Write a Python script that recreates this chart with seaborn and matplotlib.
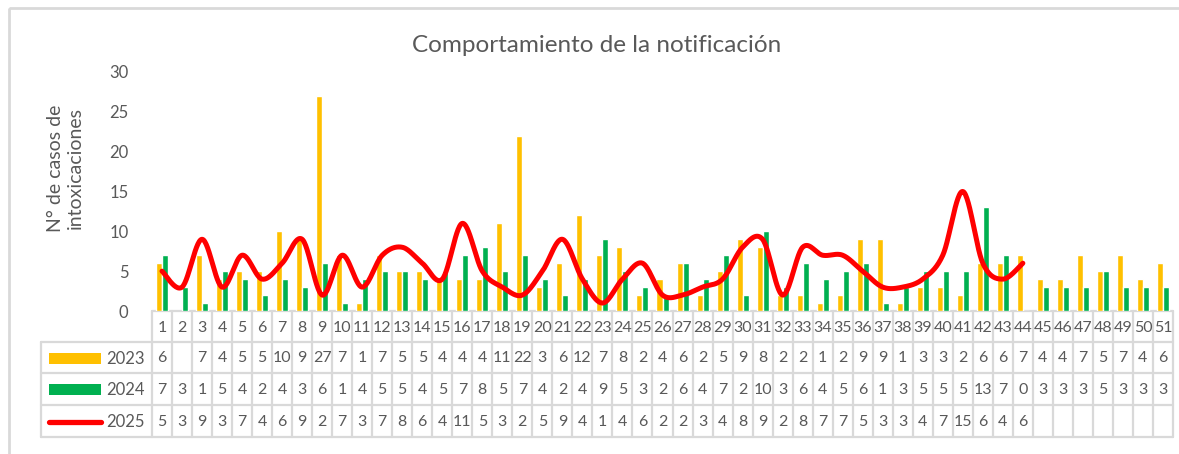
import numpy as np
import pandas as pd
import matplotlib
matplotlib.use("Agg")
import matplotlib.pyplot as plt
import seaborn as sns
from matplotlib.patches import Rectangle

weeks = [str(i) for i in range(1, 52)]
y2023 = [6, np.nan, 7, 4, 5, 5, 10, 9, 27, 7, 1, 7, 5, 5, 4, 4, 4, 11, 22, 3, 6, 12, 7, 8, 2, 4,
         6, 2, 5, 9, 8, 2, 2, 1, 2, 9, 9, 1, 3, 3, 2, 6, 6, 7, 4, 4, 7, 5, 7, 4, 6]
y2024 = [7, 3, 1, 5, 4, 2, 4, 3, 6, 1, 4, 5, 5, 4, 5, 7, 8, 5, 7, 4, 2, 4, 9, 5, 3, 2,
         6, 4, 7, 2, 10, 3, 6, 4, 5, 6, 1, 3, 5, 5, 5, 13, 7, 0, 3, 3, 3, 5, 3, 3, 3]
y2025 = [5, 3, 9, 3, 7, 4, 6, 9, 2, 7, 3, 7, 8, 6, 4, 11, 5, 3, 2, 5, 9, 4, 1, 4, 6, 2,
         2, 3, 4, 8, 9, 2, 8, 7, 7, 5, 3, 3, 4, 7, 15, 6, 4, 6]
series_names = ["2023", "2024", "2025"]
title = "Comportamiento de la notificación"
ylabel = "N° de casos de\nintoxicaciones"

C23, C24, C25 = "#FFC000", "#00B050", "#FF0000"
TXT = "#595959"
GRID = "#D9D9D9"

sns.set_theme(style="white")
plt.rcParams["font.family"] = ["Lato", "DejaVu Sans"]

W, H = 1179, 454
fig = plt.figure(figsize=(W / 100, H / 100), dpi=100)

# background/frame axes in pixel coordinates
bg = fig.add_axes([0, 0, 1, 1], zorder=0)
bg.set_xlim(0, W)
bg.set_ylim(H, 0)
bg.axis("off")
bg.add_patch(Rectangle((9, 8), W + 20, H + 20, fill=False, edgecolor=GRID, lw=2))

L, R, T, B = 152, 1173, 72, 311
ax = fig.add_axes([L / W, 1 - B / H, (R - L) / W, (B - T) / H], zorder=2)
ax.patch.set_alpha(0)

df = pd.DataFrame({
    "week": weeks * 2,
    "value": y2023 + y2024,
    "year": ["2023"] * len(weeks) + ["2024"] * len(weeks),
})
sns.barplot(data=df, x="week", y="value", hue="year", palette=[C23, C24],
            saturation=1, width=0.6, gap=0, ax=ax, legend=False, order=weeks)

# Excel-like smoothed line (Catmull-Rom / Bezier)
px = np.arange(len(y2025), dtype=float)
py = np.array(y2025, dtype=float)
xs, ys = [], []
n = len(px)
for i in range(n - 1):
    p0 = np.array([px[max(i - 1, 0)], py[max(i - 1, 0)]])
    p1 = np.array([px[i], py[i]])
    p2 = np.array([px[i + 1], py[i + 1]])
    p3 = np.array([px[min(i + 2, n - 1)], py[min(i + 2, n - 1)]])
    b1 = p1 + (p2 - p0) / 6
    b2 = p2 - (p3 - p1) / 6
    t = np.linspace(0, 1, 30)[:, None]
    pts = (1 - t) ** 3 * p1 + 3 * (1 - t) ** 2 * t * b1 + 3 * (1 - t) * t ** 2 * b2 + t ** 3 * p2
    xs.extend(pts[:, 0]); ys.extend(pts[:, 1])
ax.plot(xs, ys, color=C25, lw=3.6, solid_capstyle="round", solid_joinstyle="round", zorder=5)

ax.set_xlim(-0.5, len(weeks) - 0.5)
ax.set_ylim(0, 30)
ax.set_yticks(range(0, 31, 5))
ax.tick_params(axis="y", labelsize=12, colors=TXT, length=0, pad=17)
ax.tick_params(axis="x", bottom=False, labelbottom=False)
ax.set_xlabel("")
ax.set_ylabel("")
for s in ax.spines.values():
    s.set_visible(False)

fig.text(597 / W, 1 - 45 / H, title, ha="center", va="center", fontsize=17.5, color=TXT)
fig.text(65 / W, 1 - 168 / H, ylabel, ha="center", va="center", rotation=90,
         fontsize=14, color=TXT, linespacing=1.2)

# data table
rows = [311, 342, 373, 405, 437]
ncol = len(weeks)
cw = (R - L) / ncol
edges = [L + i * cw for i in range(ncol + 1)]
lw = 1.6
bg.plot([L, R], [rows[0], rows[0]], color=GRID, lw=lw)
for yv in rows[1:]:
    bg.plot([41, R], [yv, yv], color=GRID, lw=lw)
for xv in edges:
    bg.plot([xv, xv], [rows[0], rows[-1]], color=GRID, lw=lw)
bg.plot([41, 41], [rows[1], rows[-1]], color=GRID, lw=lw)

fs = 11.5
for j, w in enumerate(weeks):
    bg.text(L + (j + 0.5) * cw, (rows[0] + rows[1]) / 2 + 1, w, ha="center", va="center",
            fontsize=fs, color=TXT)
for r, (name, vals) in enumerate(zip(series_names, [y2023, y2024, y2025])):
    yc = (rows[r + 1] + rows[r + 2]) / 2 + 1
    for j in range(ncol):
        if j < len(vals) and not (isinstance(vals[j], float) and np.isnan(vals[j])):
            bg.text(L + (j + 0.5) * cw, yc, str(int(vals[j])), ha="center", va="center",
                    fontsize=fs, color=TXT)
    bg.text(106, yc, name, ha="left", va="center", fontsize=fs + 0.5, color=TXT)
    if r < 2:
        bg.add_patch(Rectangle((49, yc - 6), 52, 11, color=[C23, C24][r], lw=0))
    else:
        bg.plot([49, 101], [yc - 0.5, yc - 0.5], color=C25, lw=3.8, solid_capstyle="round")

fig.savefig("out.png", dpi=100)
